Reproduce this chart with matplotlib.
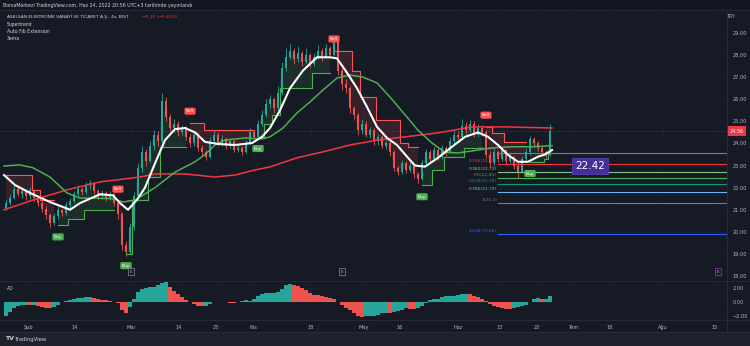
import matplotlib.pyplot as plt
import matplotlib.transforms as mtransforms
from matplotlib.patches import Rectangle
import numpy as np

# 4h candles, ASELSAN / BIST
opens = [21.10, 21.30, 21.55, 21.95, 21.70, 21.85, 21.60, 21.90, 21.55, 21.30,
         21.05, 20.75, 20.40, 20.70, 21.00, 20.85, 21.20, 21.40, 21.70, 21.95,
         21.80, 22.10, 22.20, 21.85, 21.60, 21.75, 21.55, 21.70, 21.30, 20.80,
         19.40, 19.10, 20.20, 21.60, 22.90, 23.60, 23.20, 23.90, 24.40, 24.10,
         25.90, 25.20, 24.70, 24.90, 24.50, 24.70, 24.30, 24.00, 24.40, 23.80,
         23.60, 23.40, 24.10, 24.40, 24.00, 24.20, 23.90, 24.10, 23.70, 23.80,
         23.60, 24.00, 24.50, 24.30, 24.90, 25.30, 25.80, 26.00, 25.60, 26.30,
         27.40, 27.90, 28.20, 27.80, 28.10, 27.70, 28.00, 27.60, 27.90, 28.20,
         27.90, 28.30, 28.00, 28.60, 27.30, 26.70, 26.50, 25.60, 25.30, 24.60,
         24.90, 24.40, 24.60, 24.10, 24.30, 23.90, 24.00, 23.60, 22.90, 22.70,
         23.10, 22.80, 23.00, 22.60, 22.40, 23.10, 23.60, 23.30, 23.70, 23.40,
         23.80, 23.60, 24.10, 24.40, 24.30, 24.80, 24.60, 24.90, 24.40, 24.70,
         24.50, 23.50, 23.10, 23.60, 23.30, 23.70, 23.20, 23.40, 23.00, 22.70,
         23.30, 23.60, 24.20, 24.00, 23.80, 23.60, 23.50]
closes = [21.30, 21.55, 21.95, 21.70, 21.85, 21.60, 21.90, 21.55, 21.30, 21.05,
          20.75, 20.40, 20.70, 21.00, 20.85, 21.20, 21.40, 21.70, 21.95, 21.80,
          22.10, 22.20, 21.85, 21.60, 21.75, 21.55, 21.70, 21.30, 20.80, 19.40,
          19.10, 20.20, 21.60, 22.90, 23.60, 23.20, 23.90, 24.40, 24.10, 25.90,
          25.20, 24.70, 24.90, 24.50, 24.70, 24.30, 24.00, 24.40, 23.80, 23.60,
          23.40, 24.10, 24.40, 24.00, 24.20, 23.90, 24.10, 23.70, 23.80, 23.60,
          24.00, 24.50, 24.30, 24.90, 25.30, 25.80, 26.00, 25.60, 26.30, 27.40,
          27.90, 28.20, 27.80, 28.10, 27.70, 28.00, 27.60, 27.90, 28.20, 27.90,
          28.30, 28.00, 28.60, 27.30, 26.70, 26.50, 25.60, 25.30, 24.60, 24.90,
          24.40, 24.60, 24.10, 24.30, 23.90, 24.00, 23.60, 22.90, 22.70, 23.10,
          22.80, 23.00, 22.60, 22.40, 23.10, 23.60, 23.30, 23.70, 23.40, 23.80,
          23.60, 24.10, 24.40, 24.30, 24.80, 24.60, 24.90, 24.40, 24.70, 24.50,
          23.50, 23.10, 23.60, 23.30, 23.70, 23.20, 23.40, 23.00, 22.70, 23.30,
          23.60, 24.20, 24.00, 23.80, 23.60, 23.50, 24.56]
highs = [21.45, 21.70, 22.20, 22.05, 22.00, 21.95, 22.05, 21.95, 21.65, 21.40,
         21.15, 20.85, 20.85, 21.15, 21.10, 21.35, 21.55, 21.85, 22.10, 22.05,
         22.25, 22.35, 22.25, 21.95, 21.90, 21.85, 21.85, 21.75, 21.40, 20.90,
         19.60, 20.40, 21.80, 23.10, 23.90, 23.75, 24.10, 24.60, 24.55, 26.30,
         26.10, 25.35, 25.10, 25.00, 24.85, 24.80, 24.45, 24.55, 24.50, 23.95,
         23.70, 24.30, 24.55, 24.50, 24.40, 24.30, 24.25, 24.15, 23.95, 23.90,
         24.15, 24.70, 24.60, 25.05, 25.50, 26.00, 26.20, 26.10, 26.60, 27.70,
         28.30, 28.50, 28.30, 28.40, 28.20, 28.30, 28.10, 28.10, 28.45, 28.30,
         28.50, 28.40, 28.85, 28.70, 27.40, 26.90, 26.60, 25.70, 25.40, 25.10,
         25.00, 24.75, 24.70, 24.45, 24.40, 24.15, 24.10, 23.70, 23.00, 23.25,
         23.20, 23.15, 23.05, 22.70, 23.25, 23.75, 23.70, 23.85, 23.80, 23.95,
         23.90, 24.30, 24.60, 24.55, 25.10, 24.95, 25.05, 25.00, 24.90, 24.85,
         24.60, 23.65, 23.75, 23.70, 23.85, 23.75, 23.55, 23.45, 23.10, 23.45,
         23.80, 24.35, 24.30, 24.10, 23.90, 23.70, 24.90]
lows = [21.00, 21.20, 21.50, 21.60, 21.55, 21.45, 21.50, 21.40, 21.15, 20.90,
        20.60, 20.20, 20.30, 20.60, 20.70, 20.75, 21.05, 21.30, 21.60, 21.65,
        21.70, 21.95, 21.70, 21.45, 21.50, 21.40, 21.45, 21.15, 20.60, 19.20,
        18.90, 19.00, 20.10, 21.50, 22.70, 23.00, 23.10, 23.70, 23.90, 24.00,
        25.00, 24.55, 24.50, 24.35, 24.40, 24.15, 23.85, 23.90, 23.65, 23.45,
        23.25, 23.35, 24.00, 23.90, 23.90, 23.75, 23.80, 23.60, 23.60, 23.50,
        23.55, 23.95, 24.15, 24.20, 24.80, 25.20, 25.60, 25.40, 25.50, 26.20,
        27.30, 27.80, 27.60, 27.70, 27.50, 27.60, 27.45, 27.50, 27.80, 27.75,
        27.85, 27.85, 27.95, 27.10, 26.40, 26.30, 25.40, 25.10, 24.40, 24.45,
        24.30, 24.25, 23.95, 23.95, 23.80, 23.75, 23.45, 22.75, 22.55, 22.60,
        22.65, 22.70, 22.45, 22.20, 22.35, 23.00, 23.15, 23.20, 23.25, 23.30,
        23.45, 23.55, 24.00, 24.15, 24.20, 24.45, 24.50, 24.30, 24.30, 24.35,
        23.35, 22.95, 23.00, 23.15, 23.20, 23.05, 23.10, 22.85, 22.45, 22.65,
        23.20, 23.50, 23.85, 23.65, 23.45, 23.35, 23.45]

# Awesome Oscillator
ao = [-2.0, -1.4, -0.9, -0.5, -0.4, -0.4, -0.45, -0.4, -0.5, -0.7,
      -0.85, -0.9, -0.75, -0.4, -0.05, 0.15, 0.3, 0.45, 0.55, 0.6,
      0.7, 0.7, 0.55, 0.45, 0.35, 0.25, 0.2, 0.05, -0.2, -1.1,
      -1.6, -0.7, 0.5, 1.4, 1.8, 2.0, 2.2, 2.2, 2.4, 2.7,
      2.8, 2.2, 1.6, 1.1, 0.7, 0.3, 0.0, -0.3, -0.55, -0.6,
      -0.5, -0.25, -0.05, 0.05, 0.05, -0.05, -0.1, -0.15, -0.05, 0.1,
      0.3, 0.2, 0.5, 0.9, 1.1, 1.3, 1.3, 1.35, 1.5, 1.9,
      2.4, 2.6, 2.4, 2.25, 2.0, 1.7, 1.3, 1.05, 0.95, 0.9,
      0.75, 0.6, 0.5, 0.05, -0.4, -0.85, -1.2, -1.6, -1.95, -2.1,
      -2.05, -2.0, -1.95, -1.85, -1.55, -1.5, -1.6, -1.4, -1.3, -1.1,
      -0.9, -0.95, -1.0, -0.85, -0.6, -0.15, 0.25, 0.4, 0.5, 0.65,
      0.8, 0.85, 0.9, 1.0, 1.1, 1.2, 1.1, 0.85, 0.65, 0.4,
      0.15, -0.3, -0.5, -0.65, -0.85, -0.95, -1.0, -0.9, -0.7, -0.55,
      -0.4, 0.05, 0.45, 0.6, 0.45, 0.5, 0.9]

# 3ema lines (bar position, value)
white_x = [-0.5, 2.25, 6, 11, 16, 18.5, 23.5, 26.75, 28.5, 30.5, 32.75, 34.75, 37.25,
           39.75, 42.25, 44.75, 47.25, 49.75, 53, 57.25, 61.5, 64, 66, 68.5, 71, 74.25,
           77.75, 81, 82.75, 85.25, 87.75, 90.25, 92.75, 95.25, 97.75, 100.5, 102.25,
           104.75, 108, 111.5, 114.75, 118, 120.5, 123, 125.5, 128, 130.5, 133, 134.75, 136.5]
white_y = [22.57, 22.12, 21.76, 21.35, 21.0, 21.3, 21.7, 21.65, 21.3, 21.0, 21.45, 22.0, 23.1,
           24.15, 24.65, 24.7, 24.5, 24.07, 23.98, 23.93, 24.02, 24.3, 24.7, 25.5, 26.5, 27.3,
           27.9, 27.9, 27.85, 27.2, 26.5, 25.65, 24.75, 24.25, 23.93, 23.35, 23.0,
           22.95, 23.35, 23.85, 24.3, 24.5, 24.3, 23.93, 23.48, 23.17, 23.17, 23.4, 23.5, 23.7]
green_x = [-0.5, 3.5, 6.75, 11, 15.25, 18.5, 21.75, 26.75, 29.25, 32.25, 37.25, 42.25, 47.25,
           49.75, 52.25, 54.75, 59.75, 64, 66, 69.25, 72.75, 76, 79.25, 82.75, 86, 89.25,
           92.75, 96, 99.75, 103, 106.5, 109.75, 113, 116.5, 121.5, 126.5, 131.5, 136.5]
green_y = [22.98, 23.03, 22.9, 22.48, 21.76, 21.53, 21.53, 21.5, 21.35, 21.44, 22.0, 22.7, 23.17,
           23.5, 23.93, 24.15, 24.25, 24.2, 24.3, 24.7, 25.38, 25.88, 26.42, 26.96, 27.1, 27.0,
           26.74, 26.1, 25.3, 24.6, 24.02, 23.6, 23.57, 23.66, 23.8, 23.85, 23.85, 23.9]
red_x = [-0.5, 6.75, 15.25, 23.5, 33.5, 37.25, 44.75, 52.25, 57.25, 62.25, 66, 72.75, 79.25,
         86, 92.75, 99.75, 108, 116.5, 124.75, 136.5]
red_y = [21.0, 21.44, 21.9, 22.26, 22.48, 22.62, 22.62, 22.48, 22.57, 22.8, 22.94, 23.35, 23.62,
         23.93, 24.15, 24.3, 24.48, 24.75, 24.75, 24.7]

# Supertrend steps and trend flips (Buy / Sell)
st_bars = [0, 7, 9, 13, 16, 20, 28, 30, 32, 36, 39, 46, 50, 63, 65, 67, 69, 77, 82,
           87, 89, 93, 99, 101, 104, 107, 110, 115, 120, 122, 125, 131, 135, 136]
st_levels = [22.57, 21.9, 21.44, 20.3, 20.6, 21.0, 21.4, 19.0, 21.44, 22.48, 23.85, 24.93,
             24.6, 24.3, 24.9, 25.3, 26.5, 27.2, 28.2, 27.3, 26.1, 25.06, 24.0, 23.85,
             22.12, 22.8, 23.4, 23.8, 24.75, 24.48, 24.07, 23.17, 23.3, 23.57]
flip_bars = [13, 28, 30, 46, 63, 82, 104, 120, 131]

# Auto Fib Extension
fib_labels = ['0(23.59)', '0.236(23.05)', '0.382(22.72)', '0.5(22.45)',
              '0.618(22.18)', '0.786(21.79)', '1(21.3)', '1.618(19.88)']
fib_prices = [23.59, 23.05, 22.72, 22.45, 22.18, 21.79, 21.3, 19.88]
fib_colors = ['#787b86', '#f23645', '#81c784', '#4caf50', '#089981', '#64b5f6', '#787b86', '#2962ff']
fib_start = 123

price_ticks = [18, 19, 20, 21, 22, 23, 24, 25, 26, 27, 28, 29]
ao_ticks = [-2, 0, 2]
ao_tick_labels = ['\u22122.00', '0.00', '2.00']
time_ticks = [5.5, 17.25, 31.25, 43.25, 52.5, 61.75, 76.25, 89.5, 98.5, 113, 123.5,
              132.75, 141.75, 151, 164.25, 177.25]
time_labels = ['Şub', '14', 'Mar', '14', '23', 'Nis', '18', 'May', '16', 'Haz', '13',
               '22', 'Tem', '18', 'Ağu', '15']
earnings_bars = [31.25, 84, 178]
last_price = 24.56

BG = '#161a25'
TXT = '#b2b5be'
UP = '#26a69a'
DOWN = '#ef5350'
GRID = '#1d212c'

fig = plt.figure(figsize=(7.5, 3.46), dpi=100, facecolor=BG)
ax = fig.add_axes([0, 66 / 346, 727 / 750, 270 / 346])
ax2 = fig.add_axes([0, 26 / 346, 727 / 750, 39 / 346])

# frame pieces: header strip, bottom bar, separators
fig.patches.append(Rectangle((0, 1 - 10 / 346), 1, 10 / 346, transform=fig.transFigure,
                             color='#131722', zorder=0))
fig.patches.append(Rectangle((0, 0), 1, 14 / 346, transform=fig.transFigure,
                             color='#1e222d', zorder=0))
for yy in [1 - 10 / 346, 65.5 / 346, 26 / 346, 14 / 346]:
    fig.add_artist(plt.Line2D([0, 1], [yy, yy], color='#2a2e39', lw=0.6))
fig.add_artist(plt.Line2D([727 / 750, 727 / 750], [14 / 346, 1 - 10 / 346], color='#2a2e39', lw=0.6))

n = len(closes)
x = np.arange(n)
o = np.array(opens)
c = np.array(closes)
h = np.array(highs)
l = np.array(lows)

for a in (ax, ax2):
    a.set_facecolor(BG)
    for s in a.spines.values():
        s.set_visible(False)
    a.set_xlim(-1.5, 180.25)
    a.set_xticks(time_ticks)
    for t in time_ticks:
        a.axvline(t, color=GRID, lw=0.5, zorder=0)

ax.set_ylim(17.82, 30.04)
for p in price_ticks:
    ax.axhline(p, color=GRID, lw=0.5, zorder=0)

# candles
cols = np.where(c >= o, UP, DOWN)
ax.vlines(x, l, h, colors=cols, lw=0.6, zorder=3)
ax.bar(x, np.maximum(np.abs(c - o), 0.03), bottom=np.minimum(o, c), width=0.66,
       color=cols, zorder=3)

# supertrend
level = np.zeros(n)
trend = np.zeros(n, dtype=int)
k = 0
d = -1
for i in range(n):
    while k + 1 < len(st_bars) and st_bars[k + 1] <= i:
        k += 1
    if i in flip_bars:
        d = -d
    level[i] = st_levels[k]
    trend[i] = d
mid = (o + c) / 2
starts = [0] + flip_bars
ends = flip_bars + [n]
for s, e in zip(starts, ends):
    col = '#4caf50' if trend[s] > 0 else '#ff5252'
    xs = x[s:e]
    ax.plot(xs, level[s:e], drawstyle='steps-mid', color=col, lw=0.8, zorder=4)
    ax.fill_between(xs, level[s:e], mid[s:e], step='mid', color=col, alpha=0.13,
                    lw=0, zorder=2)

for b in flip_bars:
    if trend[b] > 0:
        ax.annotate('Buy', (b, level[b]), xytext=(0, -7), textcoords='offset points',
                    ha='center', va='top', fontsize=3.2, color='white', zorder=7,
                    bbox=dict(boxstyle='round,pad=0.35', fc='#4caf50', ec='none'))
    else:
        ax.annotate('Sell', (b, level[b]), xytext=(0, 7), textcoords='offset points',
                    ha='center', va='bottom', fontsize=3.2, color='white', zorder=7,
                    bbox=dict(boxstyle='round,pad=0.35', fc='#ff5252', ec='none'))

# emas
ax.plot(red_x, red_y, color='#f23645', lw=1.1, zorder=5)
ax.plot(green_x, green_y, color='#4caf50', lw=1.1, zorder=5)
ax.plot(white_x, white_y, color='white', lw=1.5, zorder=6)

# fib extension
for lab, p, col in zip(fib_labels, fib_prices, fib_colors):
    ax.plot([fib_start, 180.25], [p, p], color=col, lw=0.8, zorder=4)
    ax.text(fib_start - 0.3, p + 0.05, lab, color=col, fontsize=3.2, ha='right',
            va='bottom', zorder=6)

# current price line
ax.axhline(last_price, color='#f23645', lw=0.5, ls=(0, (1, 2)), alpha=0.7, zorder=1)

# callout
ax.annotate('22.42', xy=(140.5, 22.48), xytext=(146, 22.98), ha='center', va='center',
            fontsize=7.5, color='white', zorder=8,
            bbox=dict(boxstyle='square,pad=0.3', fc='#43309a', ec='#5b3fb0', lw=0.6),
            arrowprops=dict(arrowstyle='-', color='#5b3fb0', lw=0.8))

# earnings markers
trans = mtransforms.blended_transform_factory(ax.transData, ax.transAxes)
for j, b in enumerate(earnings_bars):
    ec = '#9c27b0' if j == len(earnings_bars) - 1 else '#787b86'
    ax.text(b, 0.03, 'E', transform=trans, ha='center', va='center', fontsize=3.2,
            color=TXT, zorder=7,
            bbox=dict(boxstyle='square,pad=0.35', fc=BG, ec=ec, lw=0.6))

# right price scale
ax.yaxis.tick_right()
ax.set_yticks(price_ticks)
ax.set_yticklabels([f'{p:.2f}' for p in price_ticks])
ax.tick_params(axis='y', length=0, pad=4, labelsize=3.6, labelcolor=TXT)
ax.tick_params(axis='x', length=0, labelbottom=False)
ax.text(1.0, 0.975, 'TRY', transform=ax.transAxes, ha='left', va='center',
        fontsize=3.4, color=TXT)
ax.text(1.003, last_price, f'{last_price:.2f}', transform=mtransforms.blended_transform_factory(
        ax.transAxes, ax.transData), ha='left', va='center', fontsize=3.6, color='white',
        clip_on=False, zorder=9,
        bbox=dict(boxstyle='square,pad=0.45', fc='#f23645', ec='none'))

# legend texts
ax.text(7 / 727, 0.975, 'ASELSAN ELEKTRONİK SANAYİ VE TİCARET A.Ş., 4s, BIST',
        transform=ax.transAxes, fontsize=3.2, color='#d1d4dc', va='center')
ax.text(142 / 727, 0.975, '\u22120.10 (\u22120.41%)', transform=ax.transAxes,
        fontsize=3.2, color='#f23645', va='center')
for j, name in enumerate(['Supertrend', 'Auto Fib Extension', '3ema']):
    ax.text(7 / 727, 0.975 - (j + 1) * 7.3 / 270, name, transform=ax.transAxes,
            fontsize=3.3, color='#d1d4dc', va='center')

# AO panel
aov = np.array(ao)
ao_cols = [UP if i == 0 or aov[i] >= aov[i - 1] else DOWN for i in range(n)]
ax2.bar(x, aov, width=0.85, color=ao_cols, zorder=3)
ax2.set_ylim(-2.57, 3.0)
for t in ao_ticks:
    ax2.axhline(t, color=GRID, lw=0.5, zorder=0)
ax2.yaxis.tick_right()
ax2.set_yticks(ao_ticks)
ax2.set_yticklabels(ao_tick_labels)
ax2.tick_params(axis='y', length=0, pad=4, labelsize=3.6, labelcolor=TXT)
ax2.set_xticklabels(time_labels)
ax2.tick_params(axis='x', length=0, pad=3.5, labelsize=3.6, labelcolor=TXT)
ax2.text(7 / 727, 0.8, 'AO', transform=ax2.transAxes, fontsize=3.3, color='#d1d4dc',
         va='center')

# header and footer
fig.text(3 / 750, 1 - 5 / 346,
         'BorsaMerkezi TradingView.com, Haz 24, 2022 20:56 UTC+3 tarihinde yayınlandı',
         fontsize=3.4, color='#d1d4dc', va='center')
fig.text(5 / 750, 7 / 346, 'TV', fontsize=4.5, weight='bold', color='#d1d4dc', va='center')
fig.text(15 / 750, 7 / 346, 'TradingView', fontsize=3.8, color='#d1d4dc', va='center')

fig.savefig('out.png', dpi=100, facecolor=BG)
